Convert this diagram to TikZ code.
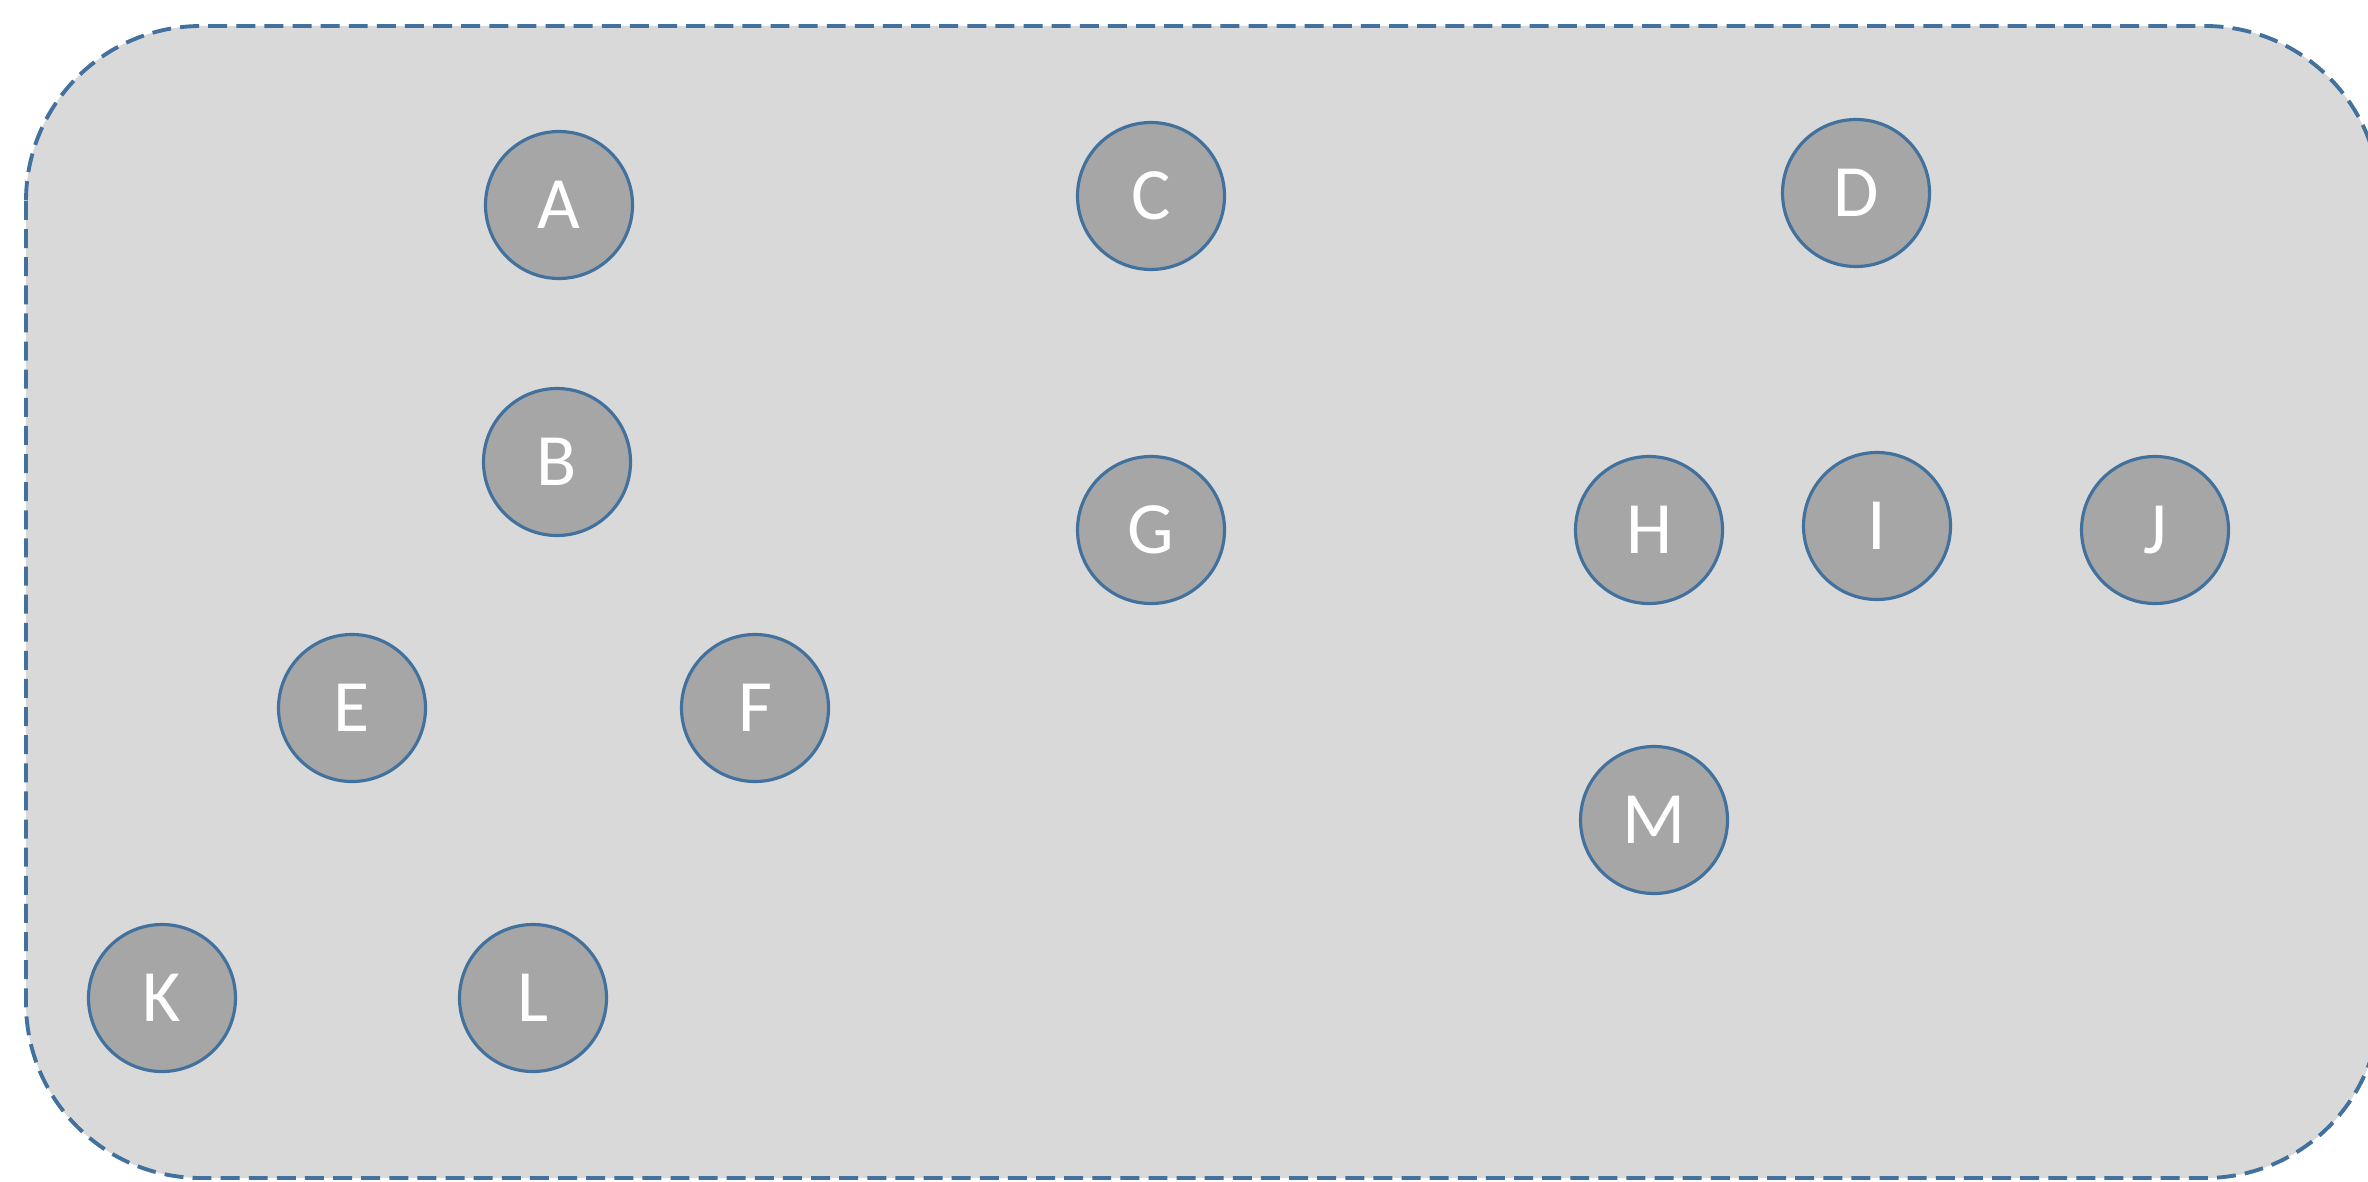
\documentclass[tikz,border=0pt]{standalone}
\usepackage{fontspec}
\setmainfont{Carlito}
\usepackage{xcolor}
\definecolor{Frame}{HTML}{41719C}
\definecolor{Panel}{HTML}{D9D9D9}
\definecolor{Vfill}{HTML}{A6A6A6}
\tikzset{
 panel/.style={draw=Frame, fill=Panel, line width=1.1pt, dash pattern=on 5.4pt off 2.6pt, rounded corners=1.75cm},
 vert/.style={circle, draw=Frame, fill=Vfill, line width=0.9pt, minimum size=1.47cm, inner sep=0pt, text=white, font=\fontsize{21}{25}\selectfont}
}
\begin{document}
\begin{tikzpicture}
\useasboundingbox (0,0) rectangle (23.68,-11.81);
\draw[panel] (0.26,-0.26) rectangle (23.80,-11.78);
% vertices
\node[vert] (A) at (5.59,-2.05) {A};
\node[vert] (B) at (5.57,-4.62) {B};
\node[vert] (C) at (11.51,-1.96) {C};
\node[vert] (D) at (18.56,-1.93) {D};
\node[vert] (G) at (11.51,-5.30) {G};
\node[vert] (H) at (16.49,-5.30) {H};
\node[vert] (I) at (18.77,-5.26) {I};
\node[vert] (J) at (21.55,-5.30) {J};
\node[vert] (E) at (3.52,-7.08) {E};
\node[vert] (F) at (7.55,-7.08) {F};
\node[vert] (M) at (16.54,-8.20) {M};
\node[vert] (K) at (1.62,-9.98) {K};
\node[vert] (L) at (5.33,-9.98) {L};
\end{tikzpicture}
\end{document}
